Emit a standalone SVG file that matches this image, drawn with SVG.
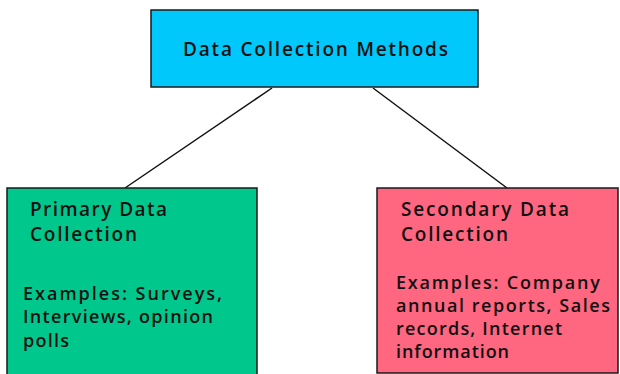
<svg xmlns="http://www.w3.org/2000/svg" width="620" height="374" viewBox="0 0 620 374">
<style>
.box{stroke:#1a1a1a;stroke-width:1.5}
.t{font-family:"Open Sans","DejaVu Sans","Liberation Sans",sans-serif;font-weight:600;fill:#111;font-size:18px}
.h{font-size:19px}
.c{stroke:#111;stroke-width:1.5;fill:none}
</style>
<rect width="620" height="374" fill="#ffffff"/>
<g id="connectors">
<line class="c" x1="272" y1="88" x2="125" y2="188"/>
<line class="c" x1="373" y1="88" x2="507" y2="188"/>
</g>
<g id="root">
<rect class="box" x="151" y="10" width="327" height="77" fill="#00C8FA"/>
<text class="t h" x="183" y="56" textLength="265" lengthAdjust="spacing">Data Collection Methods</text>
</g>
<g id="primary">
<rect class="box" x="7" y="188" width="250" height="190" fill="#00C88C"/>
<text class="t h" x="30" y="216" textLength="137" lengthAdjust="spacing">Primary Data</text>
<text class="t h" x="30" y="241" textLength="107" lengthAdjust="spacing">Collection</text>
<text class="t" x="23" y="300" textLength="199" lengthAdjust="spacing">Examples: Surveys,</text>
<text class="t" x="23" y="323" textLength="190" lengthAdjust="spacing">Interviews, opinion</text>
<text class="t" x="23" y="347" textLength="46" lengthAdjust="spacing">polls</text>
</g>
<g id="secondary">
<rect class="box" x="377" y="188" width="241" height="185" fill="#FF6680"/>
<text class="t h" x="401" y="216" textLength="168" lengthAdjust="spacing">Secondary Data</text>
<text class="t h" x="401" y="241" textLength="107" lengthAdjust="spacing">Collection</text>
<text class="t" x="396" y="289" textLength="204" lengthAdjust="spacing">Examples: Company</text>
<text class="t" x="396" y="312" textLength="214" lengthAdjust="spacing">annual reports, Sales</text>
<text class="t" x="396" y="335" textLength="166" lengthAdjust="spacing">records, Internet</text>
<text class="t" x="396" y="358" textLength="113" lengthAdjust="spacing">information</text>
</g>
</svg>
